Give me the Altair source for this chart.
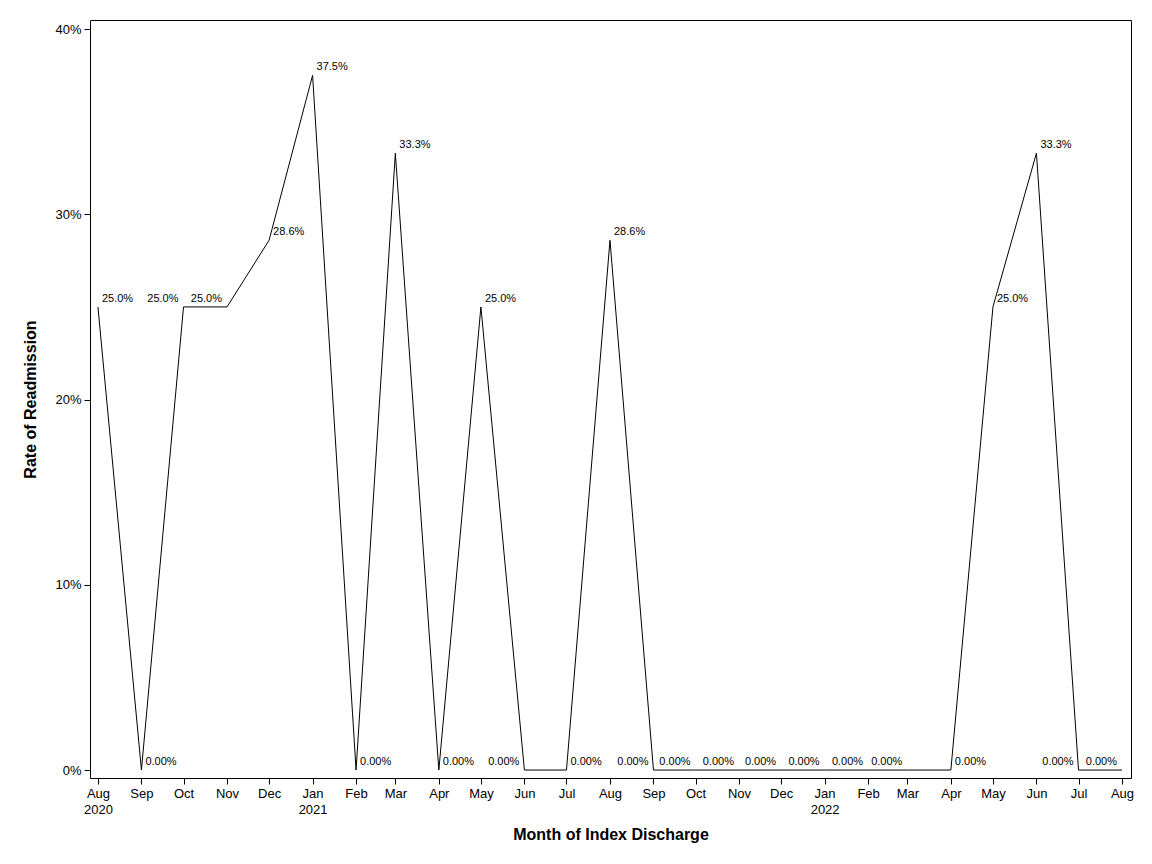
import altair as alt
import pandas as pd

# Monthly readmission rate, Aug 2020 - Aug 2022
months = ["2020-08", "2020-09", "2020-10", "2020-11", "2020-12",
          "2021-01", "2021-02", "2021-03", "2021-04", "2021-05", "2021-06",
          "2021-07", "2021-08", "2021-09", "2021-10", "2021-11", "2021-12",
          "2022-01", "2022-02", "2022-03", "2022-04", "2022-05", "2022-06",
          "2022-07", "2022-08"]
rates = [0.250, 0.0, 0.250, 0.250, 0.286,
         0.375, 0.0, 0.333, 0.0, 0.250, 0.0,
         0.0, 0.286, 0.0, 0.0, 0.0, 0.0,
         0.0, 0.0, 0.0, 0.0, 0.250, 0.333,
         0.0, 0.0]
labels = ["25.0%", "0.00%", "25.0%", "25.0%", "28.6%",
          "37.5%", "0.00%", "33.3%", "0.00%", "25.0%", "0.00%",
          "0.00%", "28.6%", "0.00%", "0.00%", "0.00%", "0.00%",
          "0.00%", "0.00%", "0.00%", "0.00%", "25.0%", "33.3%",
          "0.00%", "0.00%"]

# labels drawn to the left of their point (the rest go right)
left_labels = ["2020-10", "2020-11", "2021-06", "2021-09", "2021-10",
               "2021-11", "2021-12", "2022-01", "2022-02", "2022-03",
               "2022-07", "2022-08"]

df = pd.DataFrame({
    "month": [m + "-01T00:00:00" for m in months],
    "rate": rates,
    "label": labels,
    "side": ["left" if m in left_labels else "right" for m in months],
})

tick_values = [alt.DateTime(year=int(m[:4]), month=int(m[5:]), date=1) for m in months]

x_axis = alt.Axis(
    values=tick_values,
    labelExpr="[timeFormat(datum.value, '%b'), (month(datum.value) == 0 || "
              "(year(datum.value) == 2020 && month(datum.value) == 7)) ? "
              "timeFormat(datum.value, '%Y') : '']",
    labelAngle=0, labelFontSize=13, labelLineHeight=16, labelPadding=3,
    tickSize=6, grid=False, domain=False,
    title="Month of Index Discharge", titleFontSize=16, titlePadding=10,
)
y_axis = alt.Axis(
    values=[0, 0.1, 0.2, 0.3, 0.4], format=".0%",
    labelFontSize=13, labelPadding=3, tickSize=6, grid=False, domain=False,
    title="Rate of Readmission", titleFontSize=16, titlePadding=16,
)

base = alt.Chart(df).encode(
    x=alt.X("month:T", axis=x_axis,
            scale=alt.Scale(domain=[alt.DateTime(year=2020, month=7, date=26, hours=8),
                                    alt.DateTime(year=2022, month=8, date=7, hours=10)],
                            nice=False)),
    y=alt.Y("rate:Q", axis=y_axis,
            scale=alt.Scale(domain=[-0.0043, 0.4049], nice=False, zero=False)),
)

line = base.mark_line(color="black", strokeWidth=1)

right_text = base.transform_filter(alt.datum.side == "right").mark_text(
    align="left", baseline="bottom", dx=4, dy=-3, fontSize=11, color="black"
).encode(text="label:N")

left_text = base.transform_filter(alt.datum.side == "left").mark_text(
    align="right", baseline="bottom", dx=-5, dy=-3, fontSize=11, color="black"
).encode(text="label:N")

chart = (line + right_text + left_text).properties(
    width=1041, height=758,
    autosize="none",
    padding={"left": 82, "top": 12, "right": 13, "bottom": 86},
).configure(
    font="Liberation Sans",
).configure_view(
    stroke="black", strokeWidth=1,
).configure_axis(
    labelColor="black", tickColor="black", titleColor="black",
    titleFontWeight="bold",
)

chart.save("out.html", embed_options={"renderer": "svg", "actions": False})
